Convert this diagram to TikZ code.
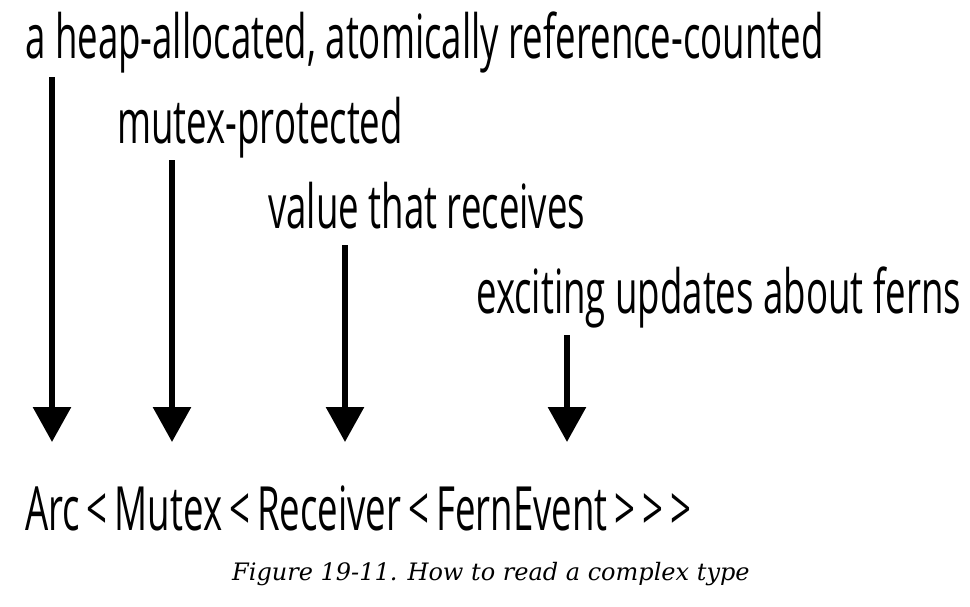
\documentclass[tikz,border=0pt]{standalone}
\usepackage{fontspec}
\usetikzlibrary{arrows.meta}
\newfontfamily\condfont[FakeStretch=0.6]{Open Sans}
\newfontfamily\capfont{DejaVu Serif}
\newcommand{\bk}{\kern7pt}
\tikzset{
  lbl/.style={anchor=base west, inner sep=0pt, font=\condfont\fontsize{61}{70}\selectfont},
  caplbl/.style={anchor=base west, inner sep=0pt, font=\capfont\itshape\fontsize{24}{28}\selectfont},
  bigarrow/.style={line width=6pt, -{Triangle[width=37pt,length=35pt]}}
}
\begin{document}
\begin{tikzpicture}[x=1pt,y=-1pt]
\useasboundingbox (0,0) rectangle (970,606);
\node[lbl] (t1) at (25,58) {a heap-allocated, atomically reference-counted};
\node[lbl] (t2) at (117,143) {mutex-protected};
\node[lbl] (t3) at (268,228) {value that receives};
\node[lbl] (t4) at (476,313) {exciting updates about ferns};
\node[lbl] (ty) at (25,530) {Arc\bk<\bk Mutex\bk<\bk Receiver\bk<\bk FernEvent\bk>\bk>\bk>};
\node[caplbl] (cap) at (232,580) {Figure 19-11. How to read a complex type};
\coordinate (s1) at (52,77);
\coordinate (e1) at (52,442);
\coordinate (s2) at (172,160);
\coordinate (e2) at (172,442);
\coordinate (s3) at (345,245);
\coordinate (e3) at (345,442);
\coordinate (s4) at (567,335);
\coordinate (e4) at (567,442);
\draw[bigarrow] (s1) -- (e1);
\draw[bigarrow] (s2) -- (e2);
\draw[bigarrow] (s3) -- (e3);
\draw[bigarrow] (s4) -- (e4);
\end{tikzpicture}
\end{document}
